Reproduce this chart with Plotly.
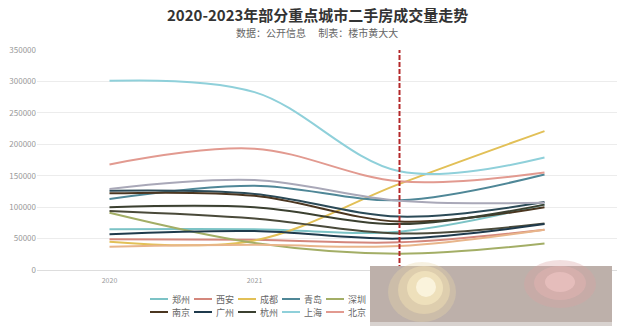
import plotly.graph_objects as go

years = ["2020", "2021", "2022", "2023"]
cities = ["郑州", "西安", "成都", "青岛", "深圳", "武汉", "重庆",
          "南京", "广州", "杭州", "上海", "北京", "苏州", "天津"]
colors = ["#7cc3c6", "#d4877c", "#e2c057", "#4f8797", "#a3ae66", "#2b4a57", "#4a4a3a",
          "#4b3620", "#1f3a4c", "#3b4030", "#8fd0da", "#e29a90", "#a9a8b8", "#e8b58a"]

zhengzhou = [65000, 65000, 61000, 104000]
xian = [49000, 48000, 44000, 64000]
chengdu = [45000, 47000, 137000, 221000]
qingdao = [113000, 134000, 111000, 152000]
shenzhen = [91000, 43000, 26000, 42000]
wuhan = [126000, 121000, 85000, 108000]
chongqing = [94000, 82000, 58000, 74000]
nanjing = [122000, 118000, 77000, 100000]
guangzhou = [57000, 62000, 50000, 73000]
hangzhou = [100000, 100000, 73000, 104000]
shanghai = [301000, 283000, 157000, 179000]
beijing = [168000, 193000, 141000, 155000]
suzhou = [129000, 143000, 110000, 107000]
tianjin = [37000, 40000, 38000, 64000]

series = [zhengzhou, xian, chengdu, qingdao, shenzhen, wuhan, chongqing,
          nanjing, guangzhou, hangzhou, shanghai, beijing, suzhou, tianjin]

W, H = 625, 326
ML, MR, MT, MB = 37, 8, 50, 56
PW, PH = W - ML - MR, H - MT - MB

def px(x):
    return (x - ML) / PW

def py(y):
    return (H - MB - y) / PH

fig = go.Figure()
for name, col, vals in zip(cities, colors, series):
    fig.add_trace(go.Scatter(x=years, y=vals, name=name, mode="lines",
                             line=dict(color=col, width=2, shape="spline", smoothing=1),
                             showlegend=False))

FONT = "Noto Sans CJK SC"
fig.update_layout(
    width=W, height=H,
    margin=dict(l=ML, r=MR, t=MT, b=MB),
    paper_bgcolor="white", plot_bgcolor="white",
    font=dict(family=FONT, color="#888"),
    xaxis=dict(type="category", range=[-0.5, 3.5], showgrid=False,
               showline=True, linecolor="#ddd", ticks="", ticklabelstandoff=4,
               tickfont=dict(size=7, color="#999"), fixedrange=True),
    yaxis=dict(range=[0, 350000], dtick=50000, tickformat="d",
               gridcolor="#ececec", zeroline=False, ticks="",
               tickfont=dict(size=8, color="#999"), fixedrange=True),
)

# title / subtitle
fig.add_annotation(text="<b>2020-2023年部分重点城市二手房成交量走势</b>", x=px(317), y=py(15),
                   xref="paper", yref="paper", showarrow=False,
                   xanchor="center", yanchor="middle",
                   font=dict(size=15, color="#333", family=FONT))
fig.add_annotation(text="数据：公开信息　 制表：楼市黄大大", x=px(317), y=py(33),
                   xref="paper", yref="paper", showarrow=False,
                   xanchor="center", yanchor="middle",
                   font=dict(size=10, color="#666", family=FONT))

# dashed marker at 2022
fig.add_shape(type="line", xref="x", yref="paper", x0=2, x1=2, y0=0, y1=1,
              line=dict(color="#b3282a", width=2, dash="5px,2px"))

WM_LEFT = 370
# legend (two rows of seven)
for i, (name, col) in enumerate(zip(cities, colors)):
    row, c = divmod(i, 7)
    x0 = 150 + 44 * c
    yy = 299 + 13 * row
    fig.add_shape(type="line", xref="paper", yref="paper",
                  x0=px(x0), x1=px(x0 + 18), y0=py(yy), y1=py(yy),
                  line=dict(color=col, width=2))
    if x0 + 20 < WM_LEFT:  # labels beyond this point sit under the watermark
        fig.add_annotation(text=name, x=px(x0 + 20), y=py(yy), xref="paper", yref="paper",
                           xanchor="left", yanchor="middle", showarrow=False,
                           font=dict(size=9, color="#666", family=FONT))

# watermark patch
fig.add_shape(type="rect", xref="paper", yref="paper", layer="above",
              x0=px(WM_LEFT), x1=px(612), y0=py(266), y1=py(322),
              fillcolor="#bdb0aa", line=dict(width=0))
fig.add_shape(type="rect", xref="paper", yref="paper", layer="above",
              x0=px(WM_LEFT), x1=px(612), y0=py(322), y1=py(326),
              fillcolor="#d8d2cf", line=dict(width=0))
for (cx, cy, rx, ry, col, op) in [
        (422, 292, 34, 30, "#e9d7a8", 0.35),
        (424, 290, 26, 24, "#f3e3b4", 0.45),
        (425, 288, 18, 17, "#fbefc6", 0.55),
        (426, 287, 10, 10, "#fffbea", 0.7),
        (560, 284, 36, 24, "#d9a3a3", 0.35),
        (560, 283, 26, 17, "#e6b3b3", 0.45),
        (560, 282, 15, 10, "#f2c8c8", 0.55)]:
    fig.add_shape(type="circle", xref="paper", yref="paper", layer="above",
                  x0=px(cx - rx), x1=px(cx + rx), y0=py(cy + ry), y1=py(cy - ry),
                  fillcolor=col, opacity=op, line=dict(width=0))

fig.write_html("out.html")
